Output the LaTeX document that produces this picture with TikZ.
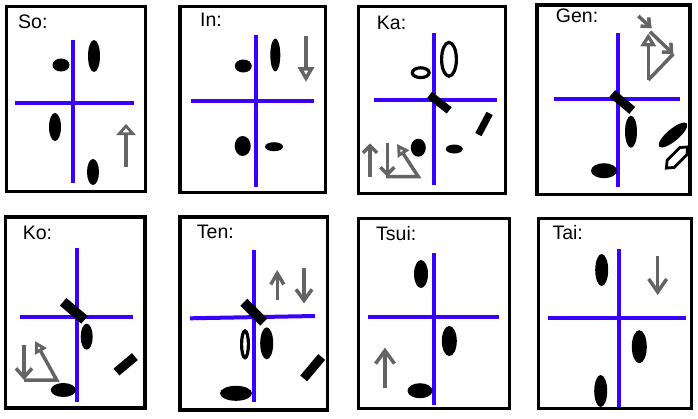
\documentclass[tikz,border=0pt]{standalone}
\usepackage{fontspec}
\setmainfont{Liberation Sans}
\usetikzlibrary{arrows.meta}
\definecolor{axisblue}{RGB}{55,0,255}
\definecolor{arrgray}{RGB}{100,100,100}
\begin{document}
\begin{tikzpicture}[x=1pt,y=-1pt,
  frame/.style={draw=black,line width=3.5pt},
  axis/.style={draw=axisblue,line width=4pt},
  ring/.style={draw=black,line width=3.2pt},
  bar/.style={draw=black,line cap=butt},
  garrow/.style={draw=arrgray,line width=3.5pt},
  lbl/.style={anchor=base west,inner sep=0pt,font=\fontsize{19.5}{22}\selectfont}]
\useasboundingbox (0,0) rectangle (698,418);
\fill[white] (0,0) rectangle (698,418);

% ---- So
\draw[frame] (6.5,6.5) rectangle (145.5,191.5);
\node[lbl] (t1) at (18,28) {So:};
\draw[axis] (73,40) -- (73,183);
\draw[axis] (15,103) -- (134,103);
\fill (61,65) ellipse [x radius=8.5pt,y radius=6.5pt];
\fill (94,56) ellipse [x radius=6pt,y radius=16pt];
\fill (55,127) ellipse [x radius=6pt,y radius=14pt];
\fill (93,172) ellipse [x radius=6pt,y radius=13pt];
\draw[garrow,-{Triangle[open,fill=white,length=11pt,width=19pt]}] (126,167) -- (126,124);

% ---- In
\draw[frame] (180,6.5) rectangle (325.5,192.5);
\node[lbl] (t2) at (200,26) {In:};
\draw[axis] (255.7,35) -- (255.7,187);
\draw[axis] (190.7,100.7) -- (314,100.7);
\fill (243.3,66) ellipse [x radius=8.5pt,y radius=6.5pt];
\fill (275.3,55) ellipse [x radius=5pt,y radius=16.5pt];
\fill (242.7,146) ellipse [x radius=8pt,y radius=10pt];
\fill (274,146.7) ellipse [x radius=9pt,y radius=4.5pt];
\draw[garrow,-{Triangle[open,fill=white,length=15pt,width=16pt]}] (306,36) -- (306,82);

% ---- Ka
\draw[frame] (358.3,6.5) rectangle (505.7,193.3);
\node[lbl] (t3) at (376.7,29.3) {Ka:};
\draw[axis] (434,33) -- (434,185);
\draw[axis] (374,100) -- (497.3,100);
\draw[ring] (420.7,72.7) ellipse [x radius=8.4pt,y radius=4.9pt];
\draw[ring] (449,59.3) ellipse [x radius=7.4pt,y radius=16.9pt];
\fill (418.3,147.7) ellipse [x radius=7.5pt,y radius=9pt];
\fill (454.3,149) ellipse [x radius=8.5pt,y radius=4.5pt];
\draw[bar,line width=8pt] (429.5,95) -- (449.2,110.4);
\draw[bar,line width=7pt] (478.4,134.6) -- (489.6,113.4);
\draw[garrow,-{Straight Barb[length=7pt,width=14pt]}] (370,176.7) -- (370,143.3);
\draw[garrow,-{Straight Barb[length=7pt,width=14pt]}] (387.3,143) -- (387.3,176.7);
\draw[garrow,-{Triangle[open,fill=white,length=12pt,width=13pt]}] (386,176.7) -- (418.3,176.7) -- (397,144);

% ---- Gen
\draw[frame] (537,5) rectangle (690,194.5);
\node[lbl] (t4) at (555.7,22.7) {Gen:};
\draw[axis] (617.7,33) -- (617.7,187.3);
\draw[axis] (554.3,99.3) -- (680,99.3);
\draw[bar,line width=9pt] (612.2,93.6) -- (632.2,110.4);
\fill (631,131.7) ellipse [x radius=6pt,y radius=16pt];
\fill (604,170.7) ellipse [x radius=13pt,y radius=7.5pt];
\fill[rotate around={40:(673,135)}] (673,135) ellipse [x radius=18pt,y radius=6pt];
\draw[line width=2.8pt,shift={(677,157.5)},rotate=45] (-15,0) -- (-9,5) -- (9,5) -- (15,0) -- (9,-5) -- (-9,-5) -- cycle;
\draw[garrow,-{Straight Barb[length=7pt,width=12pt]}] (638.3,16) -- (651.7,28.3);
\draw[garrow,-{Triangle[open,fill=white,length=13pt,width=15pt]}] (648.3,80) -- (648.3,33.3);
\draw[garrow] (648.3,80) -- (673.3,54);
\draw[garrow,-{Straight Barb[length=7pt,width=13pt]}] (650,31.7) -- (673.3,54);

% ---- Ko
\draw[frame] (5.5,217) rectangle (145,408);
\node[lbl] (t5) at (22.7,239.3) {Ko:};
\draw[axis] (76.7,247.7) -- (76.7,401.7);
\draw[axis] (20,316.7) -- (133.3,316.7);
\draw[bar,line width=10pt] (63.1,301.8) -- (84.5,319.8);
\fill (86.7,336.7) ellipse [x radius=6pt,y radius=13pt];
\fill (63.3,390) ellipse [x radius=12.5pt,y radius=7pt];
\draw[bar,line width=9pt] (116.5,372) -- (134.9,356.6);
\draw[garrow,-{Straight Barb[length=9pt,width=16pt]}] (24,345) -- (24,380);
\draw[garrow,-{Triangle[open,fill=white,length=12pt,width=13pt]}] (24,380) -- (56.7,380) -- (35,341);

% ---- Ten
\draw[frame] (180,217) rectangle (327.5,410);
\node[lbl] (t6) at (196.7,238.3) {Ten:};
\draw[axis] (254,250) -- (254,402.3);
\draw[axis] (190,318.3) -- (315,316);
\draw[bar,line width=10pt] (243.9,302.3) -- (263.7,322.1);
\draw[ring] (245,344.3) ellipse [x radius=3.4pt,y radius=13.4pt];
\fill (266.7,343.3) ellipse [x radius=6.5pt,y radius=16pt];
\fill (236,393.3) ellipse [x radius=16pt,y radius=7.5pt];
\draw[bar,line width=9pt] (303.7,378.4) -- (321.7,357);
\draw[garrow,-{Straight Barb[length=11pt,width=13pt]}] (277.3,300) -- (277.3,270);
\draw[garrow,-{Straight Barb[length=11pt,width=16pt]}] (304,268.3) -- (304,303.3);

% ---- Tsui
\draw[frame] (358.5,218.5) rectangle (509.5,408.5);
\node[lbl] (t7) at (376,240) {Tsui:};
\draw[axis] (434.3,253.3) -- (434.3,405);
\draw[axis] (368.3,316.7) -- (499,316.7);
\fill (421,274) ellipse [x radius=7pt,y radius=14pt];
\fill (449.3,341) ellipse [x radius=7.5pt,y radius=15pt];
\fill (420,390.7) ellipse [x radius=12.5pt,y radius=7.5pt];
\draw[garrow,-{Straight Barb[length=13pt,width=19pt]}] (385,388.3) -- (385,347.7);

% ---- Tai
\draw[frame] (538.5,218.5) rectangle (691.5,408.5);
\node[lbl] (t8) at (552.3,239.3) {Tai:};
\draw[axis] (619.3,249) -- (619.3,406.7);
\draw[axis] (547.7,317.7) -- (686,317.7);
\fill (601.7,270) ellipse [x radius=6.5pt,y radius=16pt];
\fill (639.3,346.7) ellipse [x radius=7.5pt,y radius=16.5pt];
\fill (600.7,391) ellipse [x radius=6.5pt,y radius=16pt];
\draw[garrow,-{Straight Barb[length=13pt,width=18pt]}] (657.7,255.7) -- (657.7,295);
\end{tikzpicture}
\end{document}
